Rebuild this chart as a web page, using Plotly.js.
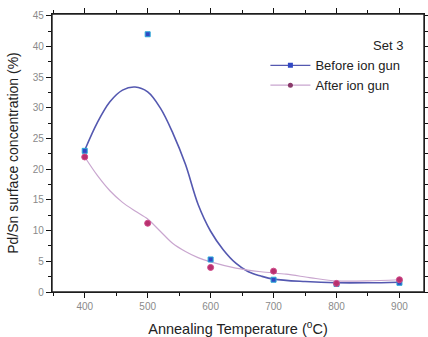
<!DOCTYPE html>
<html>
<head>
<meta charset="utf-8">
<script src="https://cdn.plot.ly/plotly-3.0.1.min.js"></script>
<style>html,body{margin:0;padding:0;background:#fff;}#chart{width:428px;height:337px;}</style>
</head>
<body>
<div id="chart"></div>
<script>
// Measured points
var temps = [400, 500, 600, 700, 800, 900];
var beforeVals = [23.0, 42.0, 5.3, 2.0, 1.3, 1.5];
var afterVals = [22.0, 11.2, 4.0, 3.4, 1.4, 2.0];

// Smooth fitted curves
var beforeFitX = [400, 420, 440, 460, 480, 500, 520, 540, 560, 580, 600, 620, 640, 660, 680, 700, 750, 800, 850, 900];
var beforeFitY = [23.1, 27.6, 31.0, 32.9, 33.4, 32.6, 30.0, 25.9, 20.8, 14.3, 9.9, 6.9, 4.7, 3.3, 2.6, 2.1, 1.7, 1.5, 1.5, 1.6];
var afterFitX = [400, 420, 440, 460, 480, 500, 520, 540, 560, 580, 600, 640, 680, 720, 760, 800, 850, 900];
var afterFitY = [22.0, 19.0, 16.5, 14.6, 13.2, 11.9, 9.9, 7.9, 6.6, 5.6, 4.9, 3.9, 3.3, 2.9, 2.3, 1.8, 1.8, 2.0];

var blueLine = '#5458b0', blueMark = '#3148c4', blueEdge = '#2aa9d6';
var pinkLine = '#c9a6cf', pinkMark = '#b8306e', pinkEdge = '#d04a8a';

var traces = [
  {x: beforeFitX, y: beforeFitY, mode: 'lines', line: {color: blueLine, width: 1.6, shape: 'spline', smoothing: 1}, showlegend: false, hoverinfo: 'skip'},
  {x: afterFitX, y: afterFitY, mode: 'lines', line: {color: pinkLine, width: 1.2, shape: 'spline', smoothing: 0.8}, showlegend: false, hoverinfo: 'skip'},
  {x: temps, y: beforeVals, mode: 'markers', marker: {symbol: 'square', size: 5, color: blueMark, line: {color: blueEdge, width: 1}}, showlegend: false},
  {x: temps, y: afterVals, mode: 'markers', marker: {symbol: 'circle', size: 6, color: pinkMark, line: {color: pinkEdge, width: 1}}, showlegend: false},
  {x: [null], y: [null], name: 'Before ion gun', mode: 'lines+markers', line: {color: blueLine, width: 1.3}, marker: {symbol: 'square', size: 5, color: blueMark}},
  {x: [null], y: [null], name: 'After ion gun', mode: 'lines+markers', line: {color: pinkLine, width: 1.2}, marker: {symbol: 'circle', size: 5, color: '#8a3a6a'}}
];

var tickFont = {family: 'Liberation Sans, Arial, sans-serif', size: 10, color: '#8a8a8a'};

var layout = {
  width: 428, height: 337,
  margin: {l: 52, r: 4, t: 14, b: 45},
  paper_bgcolor: '#ffffff', plot_bgcolor: '#ffffff',
  font: {family: 'Liberation Sans, Arial, sans-serif', color: '#222222'},
  xaxis: {range: [348, 939], tickmode: 'linear', tick0: 400, dtick: 100, ticks: 'outside', ticklen: 5, tickwidth: 1.3, tickcolor: '#111111',
    showline: true, mirror: 'ticks', linecolor: '#111111', linewidth: 1.4, showgrid: false, zeroline: false, tickfont: tickFont,
    minor: {ticks: 'outside', dtick: 50, ticklen: 3, tickwidth: 1.1, tickcolor: '#111111'},
    title: {text: 'Annealing Temperature (<sup>o</sup>C)', font: {size: 14.5, color: '#222222'}, standoff: 12}},
  yaxis: {range: [0, 45.3], tickmode: 'linear', tick0: 0, dtick: 5, ticks: 'outside', ticklen: 5, tickwidth: 1.3, tickcolor: '#111111',
    showline: true, mirror: 'ticks', linecolor: '#111111', linewidth: 1.4, showgrid: false, zeroline: false, tickfont: tickFont,
    minor: {ticks: 'outside', dtick: 2.5, ticklen: 3, tickwidth: 1.1, tickcolor: '#111111'},
    title: {text: 'Pd/Sn surface concentration (%)', font: {size: 14, color: '#222222'}, standoff: 10}},
  shapes: [{type: 'rect', xref: 'paper', yref: 'paper', x0: 0, x1: 1, y0: 0, y1: 1, line: {color: '#222222', width: 1.4}, fillcolor: 'rgba(0,0,0,0)', layer: 'above'}],
  legend: {x: 0.95, y: 0.93, xanchor: 'right', yanchor: 'top', bgcolor: 'rgba(0,0,0,0)',
    font: {size: 13, color: '#222222'}, itemwidth: 40, tracegroupgap: 0,
    title: {text: 'Set 3', side: 'top right', font: {size: 13, color: '#222222'}}},
  showlegend: true
};

Plotly.newPlot('chart', traces, layout, {displayModeBar: false});
</script>
</body>
</html>
